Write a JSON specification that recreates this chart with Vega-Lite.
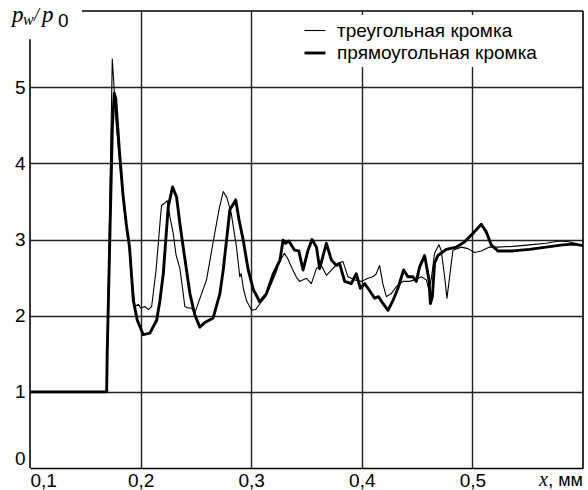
{
  "$schema": "https://vega.github.io/schema/vega-lite/v6.json",
  "autosize": "none",
  "width": 553,
  "height": 457,
  "padding": {"left": 30, "top": 11, "right": 5, "bottom": 22},
  "background": "white",
  "config": {
    "view": {"stroke": null},
    "font": "Liberation Sans",
    "axis": {
      "labelFont": "Liberation Sans",
      "labelFontSize": 19,
      "labelColor": "black",
      "ticks": false,
      "gridColor": "#222222",
      "gridWidth": 1.4,
      "title": null
    },
    "legend": {
      "labelFont": "Liberation Sans",
      "labelFontSize": 19,
      "labelColor": "black",
      "labelLimit": 0,
      "rowPadding": -2
    }
  },
  "datasets": {
    "curves": [
      {"edge": "треугольная кромка", "x": 0.1, "p": 1},
      {"edge": "треугольная кромка", "x": 0.1694, "p": 1},
      {"edge": "треугольная кромка", "x": 0.17, "p": 1.7},
      {"edge": "треугольная кромка", "x": 0.1744, "p": 5.37},
      {"edge": "треугольная кромка", "x": 0.176, "p": 5.0},
      {"edge": "треугольная кромка", "x": 0.178, "p": 4.5},
      {"edge": "треугольная кромка", "x": 0.1813, "p": 4.0},
      {"edge": "треугольная кромка", "x": 0.185, "p": 3.4},
      {"edge": "треугольная кромка", "x": 0.189, "p": 3.0},
      {"edge": "треугольная кромка", "x": 0.192, "p": 2.5},
      {"edge": "треугольная кромка", "x": 0.195, "p": 2.12},
      {"edge": "треугольная кромка", "x": 0.198, "p": 2.15},
      {"edge": "треугольная кромка", "x": 0.2, "p": 2.1},
      {"edge": "треугольная кромка", "x": 0.204, "p": 2.12},
      {"edge": "треугольная кромка", "x": 0.207, "p": 2.08},
      {"edge": "треугольная кромка", "x": 0.21, "p": 2.12},
      {"edge": "треугольная кромка", "x": 0.214, "p": 2.6},
      {"edge": "треугольная кромка", "x": 0.218, "p": 3.3},
      {"edge": "треугольная кромка", "x": 0.219, "p": 3.45},
      {"edge": "треугольная кромка", "x": 0.222, "p": 3.48},
      {"edge": "треугольная кромка", "x": 0.224, "p": 3.51},
      {"edge": "треугольная кромка", "x": 0.2265, "p": 3.3},
      {"edge": "треугольная кромка", "x": 0.2295, "p": 3.08},
      {"edge": "треугольная кромка", "x": 0.232, "p": 2.8},
      {"edge": "треугольная кромка", "x": 0.2355, "p": 2.62},
      {"edge": "треугольная кромка", "x": 0.238, "p": 2.35},
      {"edge": "треугольная кромка", "x": 0.24, "p": 2.12},
      {"edge": "треугольная кромка", "x": 0.243, "p": 2.1},
      {"edge": "треугольная кромка", "x": 0.246, "p": 2.1},
      {"edge": "треугольная кромка", "x": 0.249, "p": 2.03},
      {"edge": "треугольная кромка", "x": 0.253, "p": 2.2},
      {"edge": "треугольная кромка", "x": 0.2596, "p": 2.47},
      {"edge": "треугольная кромка", "x": 0.263, "p": 2.75},
      {"edge": "треугольная кромка", "x": 0.267, "p": 3.08},
      {"edge": "треугольная кромка", "x": 0.271, "p": 3.4},
      {"edge": "треугольная кромка", "x": 0.2747, "p": 3.63},
      {"edge": "треугольная кромка", "x": 0.278, "p": 3.55},
      {"edge": "треугольная кромка", "x": 0.282, "p": 3.34},
      {"edge": "треугольная кромка", "x": 0.2867, "p": 2.9},
      {"edge": "треугольная кромка", "x": 0.2897, "p": 2.51},
      {"edge": "треугольная кромка", "x": 0.291, "p": 2.55},
      {"edge": "треугольная кромка", "x": 0.293, "p": 2.35},
      {"edge": "треугольная кромка", "x": 0.2957, "p": 2.2},
      {"edge": "треугольная кромка", "x": 0.3003, "p": 2.07},
      {"edge": "треугольная кромка", "x": 0.304, "p": 2.08},
      {"edge": "треугольная кромка", "x": 0.308, "p": 2.16},
      {"edge": "треугольная кромка", "x": 0.313, "p": 2.25},
      {"edge": "треугольная кромка", "x": 0.317, "p": 2.38},
      {"edge": "треугольная кромка", "x": 0.322, "p": 2.55},
      {"edge": "треугольная кромка", "x": 0.326, "p": 2.72},
      {"edge": "треугольная кромка", "x": 0.33, "p": 2.82},
      {"edge": "треугольная кромка", "x": 0.333, "p": 2.75},
      {"edge": "треугольная кромка", "x": 0.337, "p": 2.62},
      {"edge": "треугольная кромка", "x": 0.341, "p": 2.5},
      {"edge": "треугольная кромка", "x": 0.3439, "p": 2.45},
      {"edge": "треугольная кромка", "x": 0.347, "p": 2.47},
      {"edge": "треугольная кромка", "x": 0.35, "p": 2.49},
      {"edge": "треугольная кромка", "x": 0.3544, "p": 2.42},
      {"edge": "треугольная кромка", "x": 0.359, "p": 2.62},
      {"edge": "треугольная кромка", "x": 0.3634, "p": 2.66},
      {"edge": "треугольная кромка", "x": 0.368, "p": 2.53},
      {"edge": "треугольная кромка", "x": 0.374, "p": 2.62},
      {"edge": "треугольная кромка", "x": 0.3785, "p": 2.69},
      {"edge": "треугольная кромка", "x": 0.383, "p": 2.71},
      {"edge": "треугольная кромка", "x": 0.3875, "p": 2.51},
      {"edge": "треугольная кромка", "x": 0.3935, "p": 2.47},
      {"edge": "треугольная кромка", "x": 0.3996, "p": 2.45},
      {"edge": "треугольная кромка", "x": 0.4056, "p": 2.49},
      {"edge": "треугольная кромка", "x": 0.41, "p": 2.51},
      {"edge": "треугольная кромка", "x": 0.4131, "p": 2.55},
      {"edge": "треугольная кромка", "x": 0.4161, "p": 2.66},
      {"edge": "треугольная кромка", "x": 0.419, "p": 2.42},
      {"edge": "треугольная кромка", "x": 0.4222, "p": 2.25},
      {"edge": "треугольная кромка", "x": 0.4267, "p": 2.29},
      {"edge": "треугольная кромка", "x": 0.4312, "p": 2.38},
      {"edge": "треугольная кромка", "x": 0.4372, "p": 2.45},
      {"edge": "треугольная кромка", "x": 0.4432, "p": 2.45},
      {"edge": "треугольная кромка", "x": 0.4478, "p": 2.47},
      {"edge": "треугольная кромка", "x": 0.4538, "p": 2.51},
      {"edge": "треугольная кромка", "x": 0.4583, "p": 2.47},
      {"edge": "треугольная кромка", "x": 0.4607, "p": 2.34},
      {"edge": "треугольная кромка", "x": 0.463, "p": 2.5},
      {"edge": "треугольная кромка", "x": 0.4658, "p": 2.82},
      {"edge": "треугольная кромка", "x": 0.4697, "p": 2.93},
      {"edge": "треугольная кромка", "x": 0.4718, "p": 2.86},
      {"edge": "треугольная кромка", "x": 0.4749, "p": 2.51},
      {"edge": "треугольная кромка", "x": 0.477, "p": 2.23},
      {"edge": "треугольная кромка", "x": 0.4794, "p": 2.51},
      {"edge": "треугольная кромка", "x": 0.4824, "p": 2.86},
      {"edge": "треугольная кромка", "x": 0.49, "p": 2.9},
      {"edge": "треугольная кромка", "x": 0.496, "p": 2.88},
      {"edge": "треугольная кромка", "x": 0.502, "p": 2.83},
      {"edge": "треугольная кромка", "x": 0.508, "p": 2.85},
      {"edge": "треугольная кромка", "x": 0.5155, "p": 2.9},
      {"edge": "треугольная кромка", "x": 0.5216, "p": 2.9},
      {"edge": "треугольная кромка", "x": 0.5366, "p": 2.91},
      {"edge": "треугольная кромка", "x": 0.5516, "p": 2.93},
      {"edge": "треугольная кромка", "x": 0.5667, "p": 2.95},
      {"edge": "треугольная кромка", "x": 0.5787, "p": 2.98},
      {"edge": "треугольная кромка", "x": 0.5878, "p": 2.97},
      {"edge": "треугольная кромка", "x": 0.595, "p": 2.93},
      {"edge": "треугольная кромка", "x": 0.6, "p": 2.92},
      {"edge": "прямоугольная кромка", "x": 0.1, "p": 1},
      {"edge": "прямоугольная кромка", "x": 0.1693, "p": 1},
      {"edge": "прямоугольная кромка", "x": 0.1698, "p": 1.5},
      {"edge": "прямоугольная кромка", "x": 0.1745, "p": 4.5},
      {"edge": "прямоугольная кромка", "x": 0.1762, "p": 4.92},
      {"edge": "прямоугольная кромка", "x": 0.1775, "p": 4.85},
      {"edge": "прямоугольная кромка", "x": 0.181, "p": 4.13},
      {"edge": "прямоугольная кромка", "x": 0.184, "p": 3.6},
      {"edge": "прямоугольная кромка", "x": 0.1873, "p": 3.17},
      {"edge": "прямоугольная кромка", "x": 0.19, "p": 2.9},
      {"edge": "прямоугольная кромка", "x": 0.1934, "p": 2.2},
      {"edge": "прямоугольная кромка", "x": 0.197, "p": 1.94},
      {"edge": "прямоугольная кромка", "x": 0.2024, "p": 1.75},
      {"edge": "прямоугольная кромка", "x": 0.2084, "p": 1.77},
      {"edge": "прямоугольная кромка", "x": 0.2145, "p": 1.94},
      {"edge": "прямоугольная кромка", "x": 0.2175, "p": 2.2},
      {"edge": "прямоугольная кромка", "x": 0.2205, "p": 2.55},
      {"edge": "прямоугольная кромка", "x": 0.225, "p": 3.43},
      {"edge": "прямоугольная кромка", "x": 0.2289, "p": 3.69},
      {"edge": "прямоугольная кромка", "x": 0.2325, "p": 3.56},
      {"edge": "прямоугольная кромка", "x": 0.2355, "p": 3.21},
      {"edge": "прямоугольная кромка", "x": 0.2385, "p": 2.9},
      {"edge": "прямоугольная кромка", "x": 0.2415, "p": 2.6},
      {"edge": "прямоугольная кромка", "x": 0.2446, "p": 2.29},
      {"edge": "прямоугольная кромка", "x": 0.249, "p": 2.01},
      {"edge": "прямоугольная кромка", "x": 0.2536, "p": 1.85},
      {"edge": "прямоугольная кромка", "x": 0.2581, "p": 1.91},
      {"edge": "прямоугольная кромка", "x": 0.2656, "p": 1.97},
      {"edge": "прямоугольная кромка", "x": 0.2717, "p": 2.29},
      {"edge": "прямоугольная кромка", "x": 0.2747, "p": 2.6},
      {"edge": "прямоугольная кромка", "x": 0.2777, "p": 2.99},
      {"edge": "прямоугольная кромка", "x": 0.2807, "p": 3.39},
      {"edge": "прямоугольная кромка", "x": 0.286, "p": 3.52},
      {"edge": "прямоугольная кромка", "x": 0.289, "p": 3.26},
      {"edge": "прямоугольная кромка", "x": 0.2928, "p": 2.99},
      {"edge": "прямоугольная кромка", "x": 0.2973, "p": 2.6},
      {"edge": "прямоугольная кромка", "x": 0.302, "p": 2.34},
      {"edge": "прямоугольная кромка", "x": 0.3078, "p": 2.18},
      {"edge": "прямоугольная кромка", "x": 0.3138, "p": 2.29},
      {"edge": "прямоугольная кромка", "x": 0.32, "p": 2.55},
      {"edge": "прямоугольная кромка", "x": 0.326, "p": 2.73},
      {"edge": "прямоугольная кромка", "x": 0.3288, "p": 2.99},
      {"edge": "прямоугольная кромка", "x": 0.331, "p": 2.95},
      {"edge": "прямоугольная кромка", "x": 0.334, "p": 2.98},
      {"edge": "прямоугольная кромка", "x": 0.3393, "p": 2.86},
      {"edge": "прямоугольная кромка", "x": 0.343, "p": 2.85},
      {"edge": "прямоугольная кромка", "x": 0.3469, "p": 2.6},
      {"edge": "прямоугольная кромка", "x": 0.3514, "p": 2.86},
      {"edge": "прямоугольная кромка", "x": 0.355, "p": 3.0},
      {"edge": "прямоугольная кромка", "x": 0.359, "p": 2.9},
      {"edge": "прямоугольная кромка", "x": 0.3619, "p": 2.62},
      {"edge": "прямоугольная кромка", "x": 0.368, "p": 2.95},
      {"edge": "прямоугольная кромка", "x": 0.3725, "p": 2.73},
      {"edge": "прямоугольная кромка", "x": 0.377, "p": 2.66},
      {"edge": "прямоугольная кромка", "x": 0.38, "p": 2.68},
      {"edge": "прямоугольная кромка", "x": 0.3845, "p": 2.45},
      {"edge": "прямоугольная кромка", "x": 0.3905, "p": 2.42},
      {"edge": "прямоугольная кромка", "x": 0.395, "p": 2.55},
      {"edge": "прямоугольная кромка", "x": 0.3987, "p": 2.36},
      {"edge": "прямоугольная кромка", "x": 0.4026, "p": 2.42},
      {"edge": "прямоугольная кромка", "x": 0.4065, "p": 2.34},
      {"edge": "прямоугольная кромка", "x": 0.4116, "p": 2.23},
      {"edge": "прямоугольная кромка", "x": 0.415, "p": 2.25},
      {"edge": "прямоугольная кромка", "x": 0.4191, "p": 2.16},
      {"edge": "прямоугольная кромка", "x": 0.4237, "p": 2.07},
      {"edge": "прямоугольная кромка", "x": 0.4282, "p": 2.2},
      {"edge": "прямоугольная кромка", "x": 0.4327, "p": 2.36},
      {"edge": "прямоугольная кромка", "x": 0.4378, "p": 2.6},
      {"edge": "прямоугольная кромка", "x": 0.4417, "p": 2.51},
      {"edge": "прямоугольная кромка", "x": 0.4463, "p": 2.51},
      {"edge": "прямоугольная кромка", "x": 0.4493, "p": 2.45},
      {"edge": "прямоугольная кромка", "x": 0.4523, "p": 2.64},
      {"edge": "прямоугольная кромка", "x": 0.4568, "p": 2.79},
      {"edge": "прямоугольная кромка", "x": 0.4607, "p": 2.47},
      {"edge": "прямоугольная кромка", "x": 0.462, "p": 2.16},
      {"edge": "прямоугольная кромка", "x": 0.4638, "p": 2.25},
      {"edge": "прямоугольная кромка", "x": 0.4658, "p": 2.69},
      {"edge": "прямоугольная кромка", "x": 0.4688, "p": 2.79},
      {"edge": "прямоугольная кромка", "x": 0.4764, "p": 2.87},
      {"edge": "прямоугольная кромка", "x": 0.4854, "p": 2.9},
      {"edge": "прямоугольная кромка", "x": 0.493, "p": 2.97},
      {"edge": "прямоугольная кромка", "x": 0.5004, "p": 3.08},
      {"edge": "прямоугольная кромка", "x": 0.508, "p": 3.2},
      {"edge": "прямоугольная кромка", "x": 0.5125, "p": 3.1},
      {"edge": "прямоугольная кромка", "x": 0.517, "p": 2.93},
      {"edge": "прямоугольная кромка", "x": 0.523, "p": 2.85},
      {"edge": "прямоугольная кромка", "x": 0.5366, "p": 2.85},
      {"edge": "прямоугольная кромка", "x": 0.5516, "p": 2.87},
      {"edge": "прямоугольная кромка", "x": 0.5667, "p": 2.9},
      {"edge": "прямоугольная кромка", "x": 0.5817, "p": 2.93},
      {"edge": "прямоугольная кромка", "x": 0.5923, "p": 2.94},
      {"edge": "прямоугольная кромка", "x": 0.6, "p": 2.92}
    ],
    "single": [{}]
  },
  "layer": [
    {
      "data": {"name": "curves"},
      "mark": {"type": "line", "color": "black", "strokeJoin": "round", "strokeCap": "butt"},
      "encoding": {
        "x": {
          "field": "x",
          "type": "quantitative",
          "scale": {"domain": [0.1, 0.6], "nice": false, "zero": false},
          "axis": {
            "values": [0.1, 0.2, 0.3, 0.4, 0.5, 0.6],
            "labelExpr": "datum.value > 0.55 ? '' : replace(format(datum.value, '.1f'), '.', ',')",
            "labelFlush": true,
            "labelPadding": 3,
            "domainColor": "black",
            "domainWidth": 1.6,
            "gridOpacity": {"condition": {"test": "datum.value < 0.15 || datum.value > 0.55", "value": 0}, "value": 1},
            "title": null
          }
        },
        "y": {
          "field": "p",
          "type": "quantitative",
          "scale": {"domain": [0, 6], "nice": false},
          "axis": {
            "values": [0, 1, 2, 3, 4, 5],
            "format": "d",
            "labelFlush": true,
            "labelPadding": 5,
            "domain": false,
            "gridOpacity": {"condition": {"test": "datum.value < 0.5", "value": 0}, "value": 1},
            "title": null
          }
        },
        "strokeWidth": {
          "field": "edge",
          "type": "nominal",
          "scale": {"domain": ["треугольная кромка", "прямоугольная кромка"], "range": [1.1, 2.9]},
          "legend": {
            "title": null,
            "orient": "none",
            "legendX": 269,
            "legendY": 4,
            "fillColor": "white",
            "padding": 4,
            "symbolType": "stroke",
            "symbolSize": 441,
            "symbolStrokeColor": "black",
            "labelOffset": 10,
            "rowPadding": -2
          }
        }
      }
    },
    {
      "data": {"name": "single"},
      "mark": {"type": "rule", "color": "black", "strokeWidth": 1.6},
      "encoding": {"x": {"datum": 0.1}, "y": {"datum": 0}, "y2": {"datum": 5.63}}
    },
    {
      "data": {"name": "single"},
      "mark": {"type": "rule", "color": "black", "strokeWidth": 1.6},
      "encoding": {"x": {"datum": 0.147}, "x2": {"datum": 0.6}, "y": {"datum": 6}}
    },
    {
      "data": {"name": "single"},
      "mark": {"type": "rule", "color": "black", "strokeWidth": 1.6},
      "encoding": {"x": {"datum": 0.6}, "y": {"datum": 0}, "y2": {"datum": 6}}
    },
    {
      "data": {"name": "single"},
      "mark": {"type": "text", "text": "p", "font": "Liberation Serif", "fontStyle": "italic", "fontSize": 23, "align": "left", "baseline": "alphabetic", "dx": -18, "dy": 11},
      "encoding": {"x": {"datum": 0.1}, "y": {"datum": 6}}
    },
    {
      "data": {"name": "single"},
      "mark": {"type": "text", "text": "w", "font": "Liberation Serif", "fontStyle": "italic", "fontSize": 16, "align": "left", "baseline": "alphabetic", "dx": -7, "dy": 14},
      "encoding": {"x": {"datum": 0.1}, "y": {"datum": 6}}
    },
    {
      "data": {"name": "single"},
      "mark": {"type": "text", "text": "/", "font": "Liberation Serif", "fontStyle": "italic", "fontSize": 18, "align": "left", "baseline": "alphabetic", "dx": 4, "dy": 10},
      "encoding": {"x": {"datum": 0.1}, "y": {"datum": 6}}
    },
    {
      "data": {"name": "single"},
      "mark": {"type": "text", "text": "p", "font": "Liberation Serif", "fontStyle": "italic", "fontSize": 23, "align": "left", "baseline": "alphabetic", "dx": 12, "dy": 11},
      "encoding": {"x": {"datum": 0.1}, "y": {"datum": 6}}
    },
    {
      "data": {"name": "single"},
      "mark": {"type": "text", "text": "0", "font": "Liberation Sans", "fontSize": 19, "align": "left", "baseline": "alphabetic", "dx": 28, "dy": 16},
      "encoding": {"x": {"datum": 0.1}, "y": {"datum": 6}}
    },
    {
      "data": {"name": "single"},
      "mark": {"type": "text", "text": "x", "font": "Liberation Serif", "fontStyle": "italic", "fontSize": 20, "align": "right", "baseline": "alphabetic", "dx": -35, "dy": 18},
      "encoding": {"x": {"datum": 0.6}, "y": {"datum": 0}}
    },
    {
      "data": {"name": "single"},
      "mark": {"type": "text", "text": ", мм", "font": "Liberation Sans", "fontSize": 18, "align": "right", "baseline": "alphabetic", "dx": 0, "dy": 18},
      "encoding": {"x": {"datum": 0.6}, "y": {"datum": 0}}
    }
  ]
}
